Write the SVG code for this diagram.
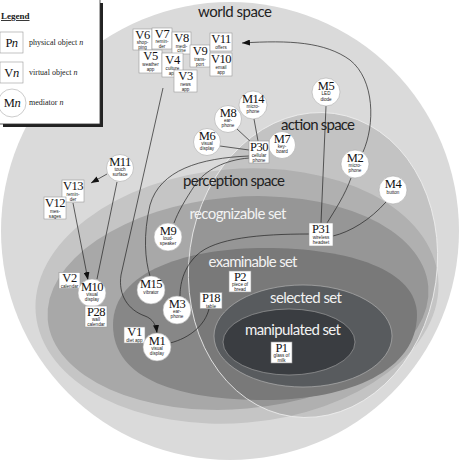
<svg xmlns="http://www.w3.org/2000/svg" width="460" height="460" viewBox="0 0 460 460">
<style>
.box{fill:#fff;stroke:#999;stroke-width:0.6}
.circ{fill:#fff;stroke:#aaa;stroke-width:0.6}
.big{font-family:"Liberation Serif",serif;font-size:12.5px;letter-spacing:-0.5px;text-anchor:middle;fill:#111}
.sm{font-family:"Liberation Sans",sans-serif;font-size:4.6px;text-anchor:middle;fill:#222}
.reg{font-family:Lato,"Liberation Sans",sans-serif;font-size:15px;text-anchor:middle}
.dk{fill:#222}
.lt{fill:#f2f2f2}
.conn{fill:none;stroke:#222;stroke-width:0.7}
.leg{font-family:"Liberation Serif",serif;font-size:8px;fill:#222}
</style>
<defs>
<marker id="ah" markerUnits="userSpaceOnUse" markerWidth="8" markerHeight="6" refX="8" refY="3" orient="auto">
<path d="M0,0 L8,3 L0,6 z" fill="#111"/>
</marker>
</defs>
<rect width="460" height="460" fill="#fff"/>
<g id="regions">
<circle cx="230" cy="231" r="229" fill="#dadada"/>
<ellipse cx="237" cy="296" rx="202" ry="127" transform="rotate(-5 237 296)" fill="#c5c5c5"/>
<ellipse cx="238" cy="303" rx="191" ry="106" transform="rotate(-5 238 303)" fill="#a8a8a8"/>
<path d="M113,325 C113,270 190,248 265,248 C350,248 417,270 417,315 C417,370 350,400 265,400 C180,400 113,380 113,325 Z" fill="#878787"/>
<ellipse cx="313" cy="265" rx="124" ry="153" transform="rotate(8 313 265)" fill="#000" fill-opacity="0.1" stroke="#eee" stroke-width="0.8"/>
<ellipse cx="303" cy="336" rx="89" ry="51" fill="#585b5e" stroke="#bbb" stroke-width="0.6"/>
<ellipse cx="289" cy="342" rx="66" ry="33" fill="#3a3d41" stroke="#aaa" stroke-width="0.6"/>
<text class="reg dk" x="235" y="17" textLength="74">world space</text>
<text class="reg dk" x="318" y="129.5" textLength="74">action space</text>
<text class="reg dk" x="234" y="186" textLength="102">perception space</text>
<text class="reg lt" x="238" y="219" textLength="97">recognizable set</text>
<text class="reg lt" x="253" y="267" textLength="89">examinable set</text>
<text class="reg lt" x="306" y="303" textLength="72">selected set</text>
<text class="reg lt" x="293" y="335" textLength="96">manipulated set</text>
</g>
<g id="legend">
<rect x="3" y="3" width="100" height="124" fill="#222"/>
<rect x="-1" y="-1" width="101" height="125" fill="#fff" stroke="#333" stroke-width="0.8"/>
<text x="1" y="19" font-family="Liberation Serif,serif" font-size="9" font-weight="bold" fill="#222" text-decoration="underline">Legend</text>
<rect x="0" y="32" width="23" height="21" class="box"/>
<text x="11.5" y="47" class="big">P<tspan font-style="italic">n</tspan></text>
<text x="29" y="45" class="leg">physical object <tspan font-style="italic">n</tspan></text>
<rect x="0" y="62" width="23" height="21" class="box"/>
<text x="11.5" y="77" class="big">V<tspan font-style="italic">n</tspan></text>
<text x="29" y="75" class="leg">virtual object <tspan font-style="italic">n</tspan></text>
<circle cx="12" cy="103" r="14" class="circ"/>
<text x="12" y="107" class="big">M<tspan font-style="italic">n</tspan></text>
<text x="29" y="105" class="leg">mediator <tspan font-style="italic">n</tspan></text>
</g>
<g id="connectors">
<path class="conn" d="M254,119 L258,141"/>
<path class="conn" d="M237,129 L251,142"/>
<path class="conn" d="M220,146 L249,150"/>
<path class="conn" d="M249,158 C225,160 205,170 195,185 C185,200 178,212 174,223"/>
<path class="conn" d="M249,156 C200,158 160,170 150,205 C143,235 145,260 150,276"/>
<path class="conn" d="M326,106 L321,223"/>
<path class="conn" d="M351,178 C345,195 335,210 327,223"/>
<path class="conn" d="M386,202 C370,220 350,232 333,236"/>
<path class="conn" d="M309,234 C260,234 215,238 197,255 C183,268 180,285 180,296"/>
<path class="conn" d="M363,152 C375,125 375,80 350,60 C325,42 290,40 242,43" marker-end="url(#ah)"/>
<path class="conn" d="M107,174 L91,183" marker-end="url(#ah)"/>
<path class="conn" d="M117,182 L97,279"/>
<path class="conn" d="M73,203 L88,280" marker-end="url(#ah)"/>
<path class="conn" d="M163,88 L121,275 C118,295 128,310 145,316 C153,319 156,325 157,333" marker-end="url(#ah)"/>
<path class="conn" d="M209,309 C205,325 190,338 170,343"/>
</g>
<g id="V6"><rect x="133" y="29" width="19" height="21" class="box"/><text x="142.5" y="38.5" class="big">V6</text><text x="142.5" y="44" class="sm">shop-</text><text x="142.5" y="49" class="sm">ping</text></g>
<g id="V7"><rect x="152" y="28" width="20" height="21" class="box"/><text x="162" y="37.5" class="big">V7</text><text x="162" y="43" class="sm">remin-</text><text x="162" y="48" class="sm">der</text></g>
<g id="V8"><rect x="172" y="32" width="19" height="22" class="box"/><text x="181.5" y="41.5" class="big">V8</text><text x="181.5" y="47.5" class="sm">medi-</text><text x="181.5" y="52.2" class="sm">cine</text></g>
<g id="V9"><rect x="190" y="45" width="20" height="22" class="box"/><text x="200" y="54.5" class="big">V9</text><text x="200" y="60.5" class="sm">trans-</text><text x="200" y="65.5" class="sm">port</text></g>
<g id="V11"><rect x="210" y="33" width="22" height="18" class="box"/><text x="221" y="42.5" class="big">V11</text><text x="221" y="48.5" class="sm">offers</text></g>
<g id="V10"><rect x="210" y="53" width="22" height="23" class="box"/><text x="221" y="62.5" class="big">V10</text><text x="221" y="68.5" class="sm">email</text><text x="221" y="73.5" class="sm">app</text></g>
<g id="V5"><rect x="139" y="50" width="23" height="23" class="box"/><text x="150.5" y="59.5" class="big">V5</text><text x="150.5" y="65.5" class="sm">weather</text><text x="150.5" y="70.5" class="sm">app</text></g>
<g id="V4"><rect x="162" y="53" width="21" height="24" class="box"/><text x="172.5" y="63.5" class="big">V4</text><text x="172.5" y="69.5" class="sm">culture</text><text x="172.5" y="74.5" class="sm">app</text></g>
<g id="V3"><rect x="174" y="70" width="23" height="22" class="box"/><text x="185.5" y="79.5" class="big">V3</text><text x="185.5" y="85.5" class="sm">news</text><text x="185.5" y="90.5" class="sm">app</text></g>
<g id="M14"><circle cx="253" cy="105" r="14" class="circ"/><text x="253" y="102.5" class="big">M14</text><text x="253" y="108" class="sm">micro-</text><text x="253" y="113" class="sm">phone</text></g>
<g id="M8"><circle cx="228" cy="119" r="13.5" class="circ"/><text x="228" y="116.5" class="big">M8</text><text x="228" y="122" class="sm">ear-</text><text x="228" y="127" class="sm">phone</text></g>
<g id="M6"><circle cx="207" cy="142" r="13.5" class="circ"/><text x="207" y="139.5" class="big">M6</text><text x="207" y="145" class="sm">visual</text><text x="207" y="150" class="sm">display</text></g>
<g id="M7"><circle cx="282" cy="145" r="13.5" class="circ"/><text x="282" y="142.5" class="big">M7</text><text x="282" y="148" class="sm">key-</text><text x="282" y="153" class="sm">board</text></g>
<g id="P30"><rect x="249" y="141" width="20" height="22" class="box"/><text x="259" y="150.5" class="big">P30</text><text x="259" y="156.5" class="sm">cellular</text><text x="259" y="161.5" class="sm">phone</text></g>
<g id="M5"><circle cx="326" cy="92" r="14" class="circ"/><text x="326" y="89.5" class="big">M5</text><text x="326" y="95" class="sm">LED</text><text x="326" y="100.5" class="sm">diode</text></g>
<g id="M2"><circle cx="355" cy="164" r="14" class="circ"/><text x="355" y="161.5" class="big">M2</text><text x="355" y="167" class="sm">micro-</text><text x="355" y="172" class="sm">phone</text></g>
<g id="M4"><circle cx="393" cy="190" r="14" class="circ"/><text x="393" y="187.5" class="big">M4</text><text x="393" y="193.5" class="sm">button</text></g>
<g id="P31"><rect x="309" y="223" width="24" height="23" class="box"/><text x="321" y="232.5" class="big">P31</text><text x="321" y="238.5" class="sm">wireless</text><text x="321" y="244" class="sm">headset</text></g>
<g id="M11"><circle cx="120" cy="168" r="13.5" class="circ"/><text x="120" y="165.5" class="big">M11</text><text x="120" y="171" class="sm">touch</text><text x="120" y="176" class="sm">surface</text></g>
<g id="V13"><rect x="62" y="180" width="22" height="22" class="box"/><text x="73" y="189.5" class="big">V13</text><text x="73" y="195.5" class="sm">remin-</text><text x="73" y="200.5" class="sm">der</text></g>
<g id="V12"><rect x="44" y="197" width="22" height="22" class="box"/><text x="55" y="206.5" class="big">V12</text><text x="55" y="212.5" class="sm">mes-</text><text x="55" y="217.5" class="sm">sages</text></g>
<g id="M9"><circle cx="168" cy="237" r="14" class="circ"/><text x="168" y="234.5" class="big">M9</text><text x="168" y="240" class="sm">loud-</text><text x="168" y="245" class="sm">speaker</text></g>
<g id="V2"><rect x="59" y="272.5" width="21" height="16" class="box"/><text x="69.5" y="281.5" class="big">V2</text><text x="69.5" y="287.5" class="sm">calendar</text></g>
<g id="M10"><circle cx="92" cy="293" r="14" class="circ"/><text x="92" y="290.5" class="big">M10</text><text x="92" y="296" class="sm">visual</text><text x="92" y="301" class="sm">display</text></g>
<g id="P28"><rect x="85" y="306" width="22" height="21" class="box"/><text x="96" y="315.5" class="big">P28</text><text x="96" y="321" class="sm">wall</text><text x="96" y="326" class="sm">calendar</text></g>
<g id="M15"><circle cx="151" cy="290" r="14" class="circ"/><text x="151" y="287.5" class="big">M15</text><text x="151" y="293.5" class="sm">vibrator</text></g>
<g id="M3"><circle cx="177" cy="310" r="14" class="circ"/><text x="177" y="307.5" class="big">M3</text><text x="177" y="313" class="sm">ear-</text><text x="177" y="318" class="sm">phone</text></g>
<g id="P18"><rect x="200" y="292.5" width="22" height="16" class="box"/><text x="211" y="301.5" class="big">P18</text><text x="211" y="307.5" class="sm">table</text></g>
<g id="P2"><rect x="229" y="271" width="22" height="21" class="box"/><text x="240" y="280.5" class="big">P2</text><text x="240" y="286" class="sm">piece of</text><text x="240" y="291" class="sm">bread</text></g>
<g id="V1"><rect x="124" y="327" width="21" height="16" class="box"/><text x="134.5" y="336" class="big">V1</text><text x="134.5" y="342" class="sm">diet app</text></g>
<g id="M1"><circle cx="157" cy="347" r="14" class="circ"/><text x="157" y="344.5" class="big">M1</text><text x="157" y="350" class="sm">visual</text><text x="157" y="355" class="sm">display</text></g>
<g id="P1"><rect x="271" y="342" width="21" height="21" class="box"/><text x="281.5" y="351.5" class="big">P1</text><text x="281.5" y="357" class="sm">glass of</text><text x="281.5" y="362" class="sm">milk</text></g>
</svg>
